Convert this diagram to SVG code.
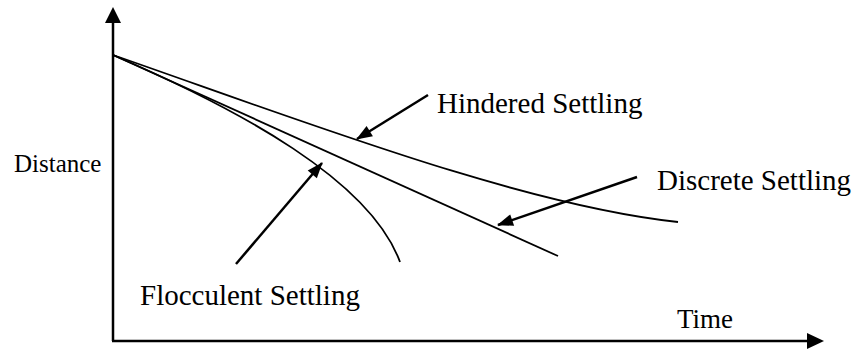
<svg xmlns="http://www.w3.org/2000/svg" width="855" height="349" viewBox="0 0 855 349">
<style>
.axis{stroke:#000;stroke-width:2.5;fill:none}
.curve{stroke:#000;stroke-width:1.8;fill:none}
.ptr{stroke:#000;stroke-width:2.5;fill:none}
text{font-family:"Liberation Serif","Times New Roman",serif;font-size:29px;fill:#000}
text.small{font-size:25px}
text.time{font-size:27px}
</style>
<defs>
<marker id="ah" viewBox="0 0 16 12" refX="15" refY="6" markerWidth="16" markerHeight="12" markerUnits="userSpaceOnUse" orient="auto" overflow="visible">
<path d="M0,0 L16,6 L0,12 Z" fill="#000"/>
</marker>
</defs>
<rect width="855" height="349" fill="#fff"/>
<g id="axes">
<line class="axis" x1="113" y1="341" x2="113" y2="22"/>
<path d="M113,7 L105,23 L121,23 Z" fill="#000"/>
<line class="axis" x1="112" y1="341" x2="808" y2="341"/>
<path d="M824,341 L807,333 L807,349 Z" fill="#000"/>
</g>
<g id="curves">
<path id="hindered" class="curve" d="M113,55 C300,120 520,205 678,222"/>
<path id="discrete" class="curve" d="M113,55 L558,256"/>
<path id="flocculent" class="curve" d="M113,55 C240,110 370,180 400,262"/>
</g>
<g id="connectors">
<line class="ptr" x1="428" y1="95" x2="357" y2="139" marker-end="url(#ah)"/>
<line class="ptr" x1="637" y1="177" x2="498" y2="225" marker-end="url(#ah)"/>
<line class="ptr" x1="236" y1="264" x2="322" y2="163" marker-end="url(#ah)"/>
</g>
<g id="labels">
<text class="small" x="14" y="172">Distance</text>
<text x="437" y="113">Hindered Settling</text>
<text x="657" y="190">Discrete Settling</text>
<text x="140" y="305">Flocculent Settling</text>
<text class="time" x="677" y="328">Time</text>
</g>
</svg>
